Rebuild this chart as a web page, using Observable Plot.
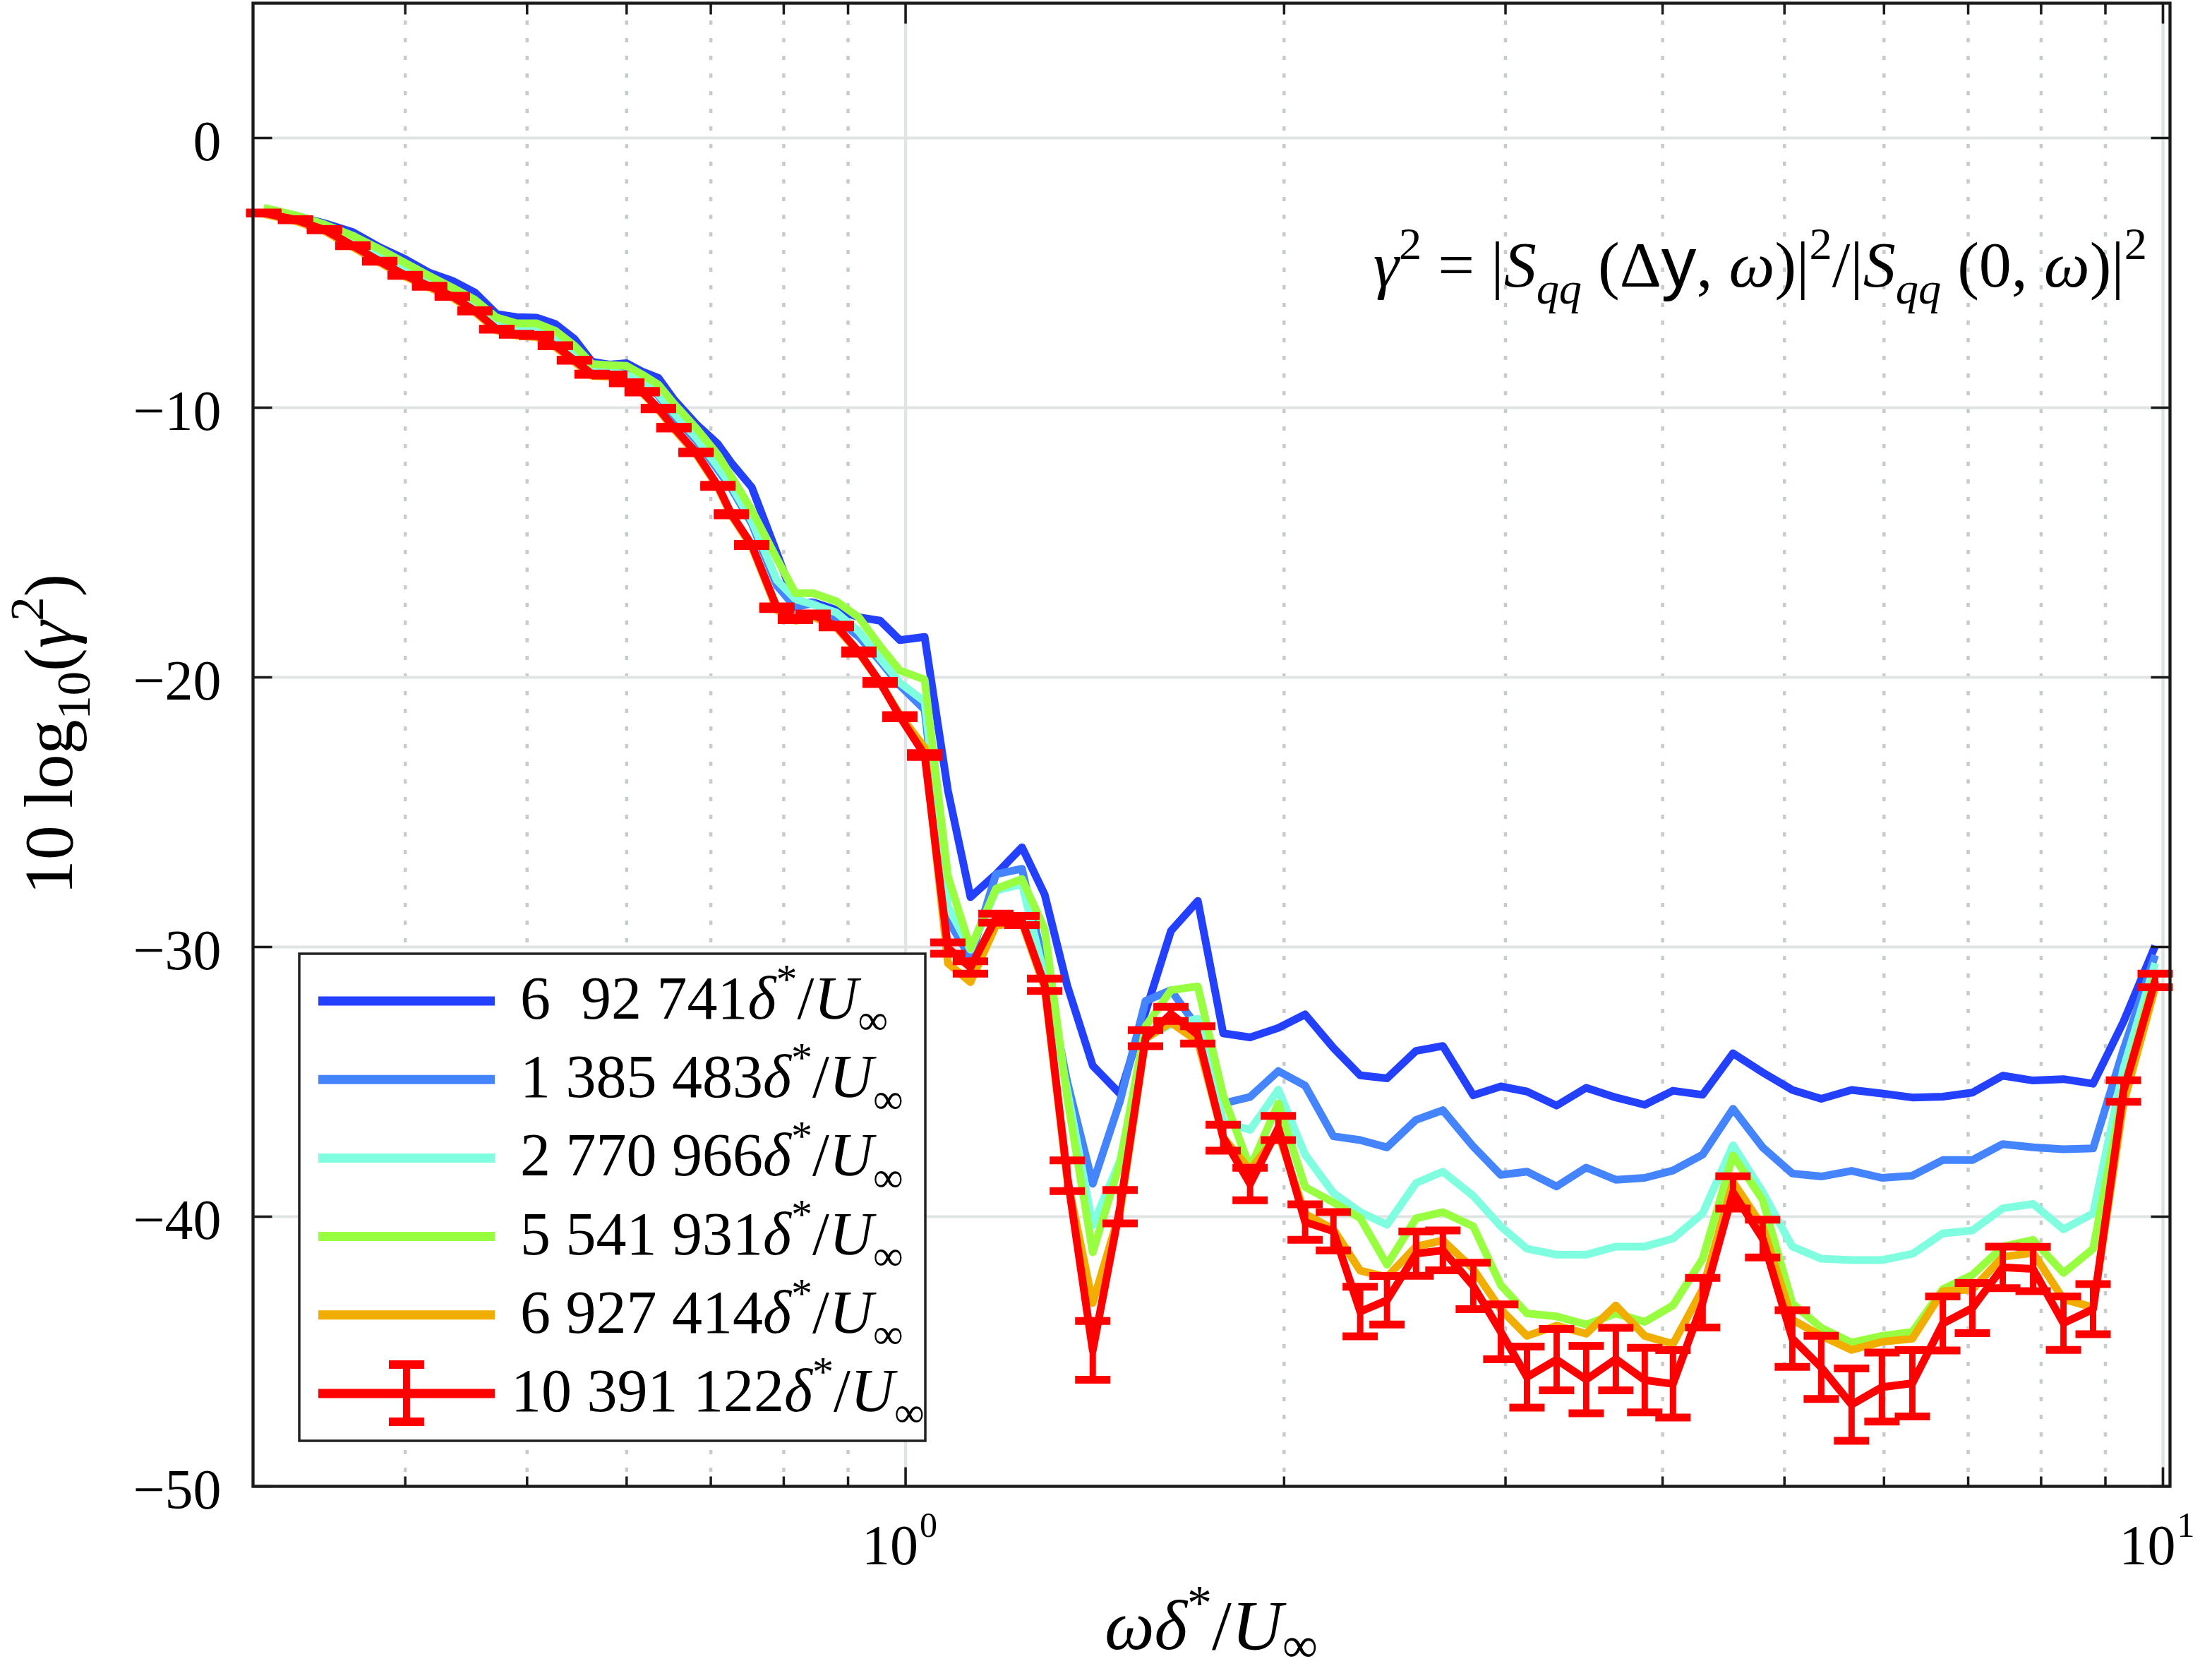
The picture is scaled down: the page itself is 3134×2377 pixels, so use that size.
<!DOCTYPE html>
<html><head><meta charset="utf-8">
<script src="https://cdn.jsdelivr.net/npm/d3@7"></script>
<script src="https://cdn.jsdelivr.net/npm/@observablehq/plot@0.6"></script>
<style>
html,body{margin:0;padding:0;background:#fff;overflow:hidden;}
#chart svg{display:block;}
</style></head>
<body><div id="chart"></div>
<script>
// ---------------- data ----------------
const freq = [
 0.3087,0.3272,0.3450,0.3634,0.3817,0.3999,0.4183,0.4360,0.4545,0.4730,
 0.4905,0.5086,0.5266,0.5453,0.5632,0.5816,0.6000,0.6173,0.6360,0.6543,
 0.6813,0.7092,0.7269,0.7545,0.7901,0.8173,0.8441,0.8810,0.9182,0.9545,
 0.9897,1.0355,1.0806,1.1262,1.1800,1.2376,1.2900,1.3445,1.4088,1.4813,
 1.5518,1.6258,1.7078,1.7890,1.8793,1.9790,2.0786,2.1890,2.2991,2.4149,
 2.5468,2.6749,2.8280,2.9743,3.1204,3.2943,3.4780,3.6718,3.8712,4.0767,
 4.3043,4.5506,4.8044,5.0727,5.3488,5.6540,5.9773,6.3198,6.6818,7.0540,
 7.4575,7.8840,8.3349,8.7991,9.3025,9.8585];

const blueVals = [
 -2.65,-2.88,-3.16,-3.49,-4.05,-4.49,-5.00,-5.29,-5.73,-6.53,
 -6.64,-6.66,-6.90,-7.45,-8.30,-8.40,-8.35,-8.66,-8.90,-9.70,
 -10.60,-11.35,-12.05,-12.95,-15.40,-17.25,-17.22,-17.50,-17.77,-17.90,
 -18.62,-18.50,-24.20,-28.15,-27.30,-26.30,-28.05,-31.43,-34.40,-35.45,
 -32.40,-29.40,-28.29,-33.20,-33.35,-33.00,-32.50,-33.74,-34.76,-34.87,
 -33.85,-33.67,-35.50,-35.17,-35.36,-35.88,-35.22,-35.58,-35.85,-35.33,
 -35.48,-33.94,-34.65,-35.30,-35.63,-35.30,-35.43,-35.58,-35.55,-35.40,
 -34.77,-34.95,-34.90,-35.07,-32.77,-29.96];

const midBlueVals = [
 -2.68,-2.95,-3.30,-3.80,-4.35,-4.85,-5.30,-5.70,-6.20,-6.85,
 -7.05,-7.08,-7.40,-7.95,-8.55,-8.60,-8.75,-9.00,-9.55,-10.30,
 -11.20,-12.30,-13.00,-14.30,-16.60,-17.40,-17.25,-17.80,-18.50,-19.40,
 -20.30,-21.20,-29.00,-30.40,-27.30,-27.10,-30.80,-35.00,-38.78,-35.70,
 -32.00,-31.60,-33.00,-35.80,-35.56,-34.60,-35.14,-37.02,-37.16,-37.43,
 -36.41,-36.05,-37.40,-38.45,-38.33,-38.88,-38.18,-38.63,-38.56,-38.29,
 -37.70,-36.00,-37.43,-38.40,-38.51,-38.30,-38.56,-38.48,-37.90,-37.90,
 -37.31,-37.43,-37.50,-37.47,-33.80,-30.30];

const cyanVals = [
 -2.70,-2.97,-3.32,-3.83,-4.38,-4.88,-5.33,-5.73,-6.23,-6.90,
 -7.10,-7.13,-7.45,-8.00,-8.58,-8.63,-8.80,-8.95,-9.50,-10.20,
 -11.10,-12.20,-12.90,-14.20,-16.40,-17.10,-17.30,-17.60,-18.30,-19.30,
 -20.20,-20.90,-28.50,-30.10,-27.90,-27.67,-31.10,-35.30,-40.32,-37.90,
 -33.37,-32.87,-32.66,-36.49,-36.78,-35.29,-37.70,-39.12,-39.83,-40.30,
 -38.75,-38.33,-39.23,-40.36,-41.19,-41.41,-41.41,-41.11,-41.11,-40.81,
 -39.88,-37.35,-39.08,-41.11,-41.56,-41.61,-41.61,-41.38,-40.62,-40.51,
 -39.69,-39.53,-40.47,-39.88,-34.50,-30.60];

const greenVals = [
 -2.59,-2.86,-3.20,-3.62,-4.12,-4.63,-5.12,-5.55,-6.00,-6.66,
 -6.87,-6.87,-7.15,-7.70,-8.38,-8.42,-8.45,-8.77,-9.15,-9.85,
 -10.75,-11.75,-12.55,-13.80,-15.60,-16.88,-16.88,-17.18,-17.78,-18.85,
 -19.75,-20.08,-27.37,-30.05,-27.84,-27.48,-29.33,-35.60,-41.32,-38.00,
 -32.94,-31.60,-31.46,-35.50,-38.20,-35.80,-38.90,-39.47,-40.05,-41.78,
 -40.06,-39.83,-40.36,-42.54,-43.59,-43.70,-44.00,-43.59,-43.90,-43.29,
 -41.56,-37.73,-39.38,-43.22,-44.12,-44.67,-44.42,-44.27,-42.69,-42.16,
 -41.11,-40.86,-42.09,-41.19,-35.30,-31.00];

const orangeVals = [
 -2.82,-3.08,-3.45,-4.05,-4.62,-5.14,-5.55,-5.92,-6.46,-7.14,
 -7.33,-7.38,-7.75,-8.30,-8.82,-8.85,-9.12,-9.45,-10.08,-10.80,
 -11.72,-12.96,-14.00,-15.15,-17.50,-17.90,-17.75,-18.15,-19.10,-20.20,
 -21.40,-22.60,-30.60,-31.30,-29.20,-29.10,-31.50,-38.60,-43.20,-39.80,
 -33.40,-32.80,-33.50,-37.06,-38.27,-36.92,-39.90,-40.47,-42.00,-42.24,
 -41.11,-40.88,-41.94,-43.44,-44.42,-44.04,-44.34,-43.29,-44.42,-44.72,
 -42.69,-38.71,-40.36,-43.82,-44.42,-44.94,-44.64,-44.52,-42.76,-42.70,
 -41.49,-41.34,-43.06,-43.36,-35.80,-31.50];

const redVals = [
 -2.78,-3.03,-3.40,-3.99,-4.57,-5.09,-5.50,-5.87,-6.41,-7.09,
 -7.28,-7.32,-7.70,-8.24,-8.76,-8.79,-9.08,-9.41,-10.03,-10.74,
 -11.66,-12.90,-13.95,-15.09,-17.42,-17.83,-17.68,-18.10,-19.06,-20.19,
 -21.46,-22.88,-30.04,-30.76,-28.93,-29.02,-31.40,-38.48,-44.96,-39.63,
 -33.38,-32.48,-33.26,-37.07,-38.79,-36.71,-40.20,-40.54,-43.52,-43.10,
 -41.37,-41.25,-42.57,-44.27,-45.95,-45.30,-46.04,-45.28,-46.06,-46.20,
 -43.19,-39.10,-40.81,-44.52,-45.59,-46.97,-46.32,-46.18,-43.96,-43.39,
 -41.88,-41.94,-43.95,-43.43,-35.34,-31.24];

const redErr = [
 0.02,0.02,0.02,0.02,0.02,0.02,0.02,0.02,0.02,0.02,
 0.02,0.02,0.02,0.02,0.02,0.02,0.02,0.03,0.03,0.03,
 0.03,0.04,0.04,0.04,0.05,0.05,0.05,0.05,0.06,0.06,
 0.06,0.07,0.21,0.23,0.17,0.17,0.23,0.57,1.09,0.62,
 0.30,0.26,0.32,0.48,0.60,0.45,0.66,0.71,0.92,0.90,
 0.82,0.74,0.86,1.02,1.13,1.14,1.25,1.16,1.20,1.25,
 0.92,0.60,0.70,1.05,1.17,1.34,1.28,1.23,1.00,0.93,
 0.77,0.82,0.99,0.93,0.40,0.25];

const seriesLabels = ["6\u200292 741","1 385 483","2 770 966","5 541 931","6 927 414","10 391 122"];
const seriesColors = ["#2340ff","#4484ff","#80ffe0","#98ff40","#f1ae00","#ff0000"];
const seriesValues = [blueVals, midBlueVals, cyanVals, greenVals, orangeVals, redVals];

const yTicks = [0,-10,-20,-30,-40,-50];
const xMajor = [1, 10];
const xMajorExp = ["0", "1"];
const xMinor = [0.4,0.5,0.6,0.7,0.8,0.9,2,3,4,5,6,7,8,9];
const xDomain = [0.3027, 10.13];
const yDomain = [-50, 5];

// ---------------- drawing ----------------
const W = 3134, H = 2377;
const FONT = "'Liberation Serif','Times New Roman',serif";
const AXIS = "#1b1b1b";
const idx = d3.range(freq.length);

const tickSym = (dx, dy) => ({draw(c) { c.moveTo(0, 0); c.lineTo(dx, dy); }});
const capSym = {draw(c, size) { const r = Math.sqrt(size / Math.PI); c.moveTo(-r, 0); c.lineTo(r, 0); }};

const lineMarks = seriesValues.map((vals, k) =>
  Plot.line(idx, {x: i => freq[i], y: i => vals[i], stroke: seriesColors[k],
    strokeWidth: 11, strokeLinejoin: "round", strokeLinecap: "butt"}));

const plot = Plot.plot({
  width: W, height: H,
  marginLeft: 358, marginRight: 60, marginTop: 4, marginBottom: 272,
  x: {type: "log", domain: xDomain, axis: null},
  y: {domain: yDomain, axis: null},
  style: {background: "#fff", fontFamily: FONT, overflow: "visible", color: "#000"},
  marks: [
    Plot.ruleX(xMinor, {stroke: "#c6cccc", strokeWidth: 4.5, strokeDasharray: "6,19"}),
    Plot.ruleX(xMajor, {stroke: "#e1e4e4", strokeWidth: 4.5}),
    Plot.ruleY(yTicks, {stroke: "#e1e4e4", strokeWidth: 4}),
    ...lineMarks,
    Plot.ruleX(idx, {x: i => freq[i], y1: i => redVals[i] - redErr[i], y2: i => redVals[i] + redErr[i],
      stroke: "#ff0000", strokeWidth: 9}),
    Plot.dot(idx, {x: i => freq[i], y: i => redVals[i] - redErr[i], symbol: capSym, r: 25,
      stroke: "#ff0000", strokeWidth: 11, fill: "none"}),
    Plot.dot(idx, {x: i => freq[i], y: i => redVals[i] + redErr[i], symbol: capSym, r: 25,
      stroke: "#ff0000", strokeWidth: 11, fill: "none"}),
    Plot.frame({stroke: AXIS, strokeWidth: 4.3}),
    // ticks (inward)
    Plot.dot(xMinor, {x: d => d, y: () => yDomain[0], symbol: tickSym(0, -14), r: 1, stroke: AXIS, strokeWidth: 3.5, fill: "none"}),
    Plot.dot(xMinor, {x: d => d, y: () => yDomain[1], symbol: tickSym(0, 16), r: 1, stroke: AXIS, strokeWidth: 3.5, fill: "none"}),
    Plot.dot(xMajor, {x: d => d, y: () => yDomain[0], symbol: tickSym(0, -27), r: 1, stroke: AXIS, strokeWidth: 3.5, fill: "none"}),
    Plot.dot(xMajor, {x: d => d, y: () => yDomain[1], symbol: tickSym(0, 29), r: 1, stroke: AXIS, strokeWidth: 3.5, fill: "none"}),
    Plot.dot(yTicks, {x: () => xDomain[0], y: d => d, symbol: tickSym(27, 0), r: 1, stroke: AXIS, strokeWidth: 3.5, fill: "none"}),
    Plot.dot(yTicks, {x: () => xDomain[1], y: d => d, symbol: tickSym(-27, 0), r: 1, stroke: AXIS, strokeWidth: 3.5, fill: "none"}),
    // tick labels
    Plot.text(yTicks, {x: () => xDomain[0], y: d => d, text: d => d === 0 ? "0" : "\u2212" + Math.abs(d),
      textAnchor: "end", dx: -45, dy: 6, fontSize: 80, fill: "#000", fontFamily: FONT}),
    Plot.text(xMajor, {x: d => d, y: () => yDomain[0], text: () => "10", textAnchor: "end",
      lineAnchor: "bottom", dx: 18, dy: 110, fontSize: 80, fill: "#000", fontFamily: FONT}),
    Plot.text(xMajor, {x: d => d, y: () => yDomain[0], text: (d, i) => xMajorExp[i], textAnchor: "start",
      lineAnchor: "bottom", dx: 20, dy: 71, fontSize: 50, fill: "#000", fontFamily: FONT})
  ]
});

document.getElementById("chart").appendChild(plot);
const svg = d3.select(plot);

// rich text helper
function rich(parent, x, y, size, parts, anchor, subK = 0.26) {
  const t = parent.append("text").attr("x", x).attr("y", y)
    .attr("font-size", size).attr("font-family", FONT).attr("fill", "#000")
    .attr("text-anchor", anchor || "start").attr("xml:space", "preserve")
    .style("white-space", "pre");
  let cur = 0;
  for (const [str, kind] of parts) {
    const sup = kind.includes("sup"), sub = kind.includes("sub");
    const off = sup ? -0.42 * size : sub ? subK * size : 0;
    const ts = t.append("tspan").text(str).attr("dy", off - cur);
    cur = off;
    if (sup || sub) ts.attr("font-size", size * 0.7);
    if (kind.includes("i")) ts.attr("font-style", "italic");
    if (kind.includes("sans")) ts.attr("font-family", "'Liberation Sans',sans-serif").attr("font-size", size * 1.08);
  }
  return t;
}

const unitParts = [["δ", "i"], ["*", "sup"], ["/", ""], ["U", "i"], ["∞", "sub"]];

// axis titles
rich(svg, 1716, 2336, 100, [["ω", "i"], ...unitParts], "middle", 0.18);
const yt = svg.append("g").attr("transform", "translate(102,1040) rotate(-90)");
rich(yt, 0, 0, 98, [["10 log", ""], ["10", "sub"], ["(", ""], ["γ", "i"], ["2", "sup"], [")", ""]], "middle");

// annotation
rich(svg, 3042, 406, 92, [
  ["γ", "i"], ["2", "sup"], [" = ", ""], ["|", ""], ["S", "i"], ["qq", "isub"], [" (", ""], ["Δ", ""], ["y", "sans"],
  [", ", ""], ["ω", "i"], [")|", ""], ["2", "sup"], ["/|", ""], ["S", "i"], ["qq", "isub"], [" (0, ", ""],
  ["ω", "i"], [")|", ""], ["2", "sup"]], "end");

// legend
const lg = svg.append("g");
lg.append("rect").attr("x", 424).attr("y", 1351).attr("width", 887).attr("height", 690)
  .attr("fill", "#fff").attr("stroke", "#222").attr("stroke-width", 3.5);
seriesLabels.forEach((lab, k) => {
  const ly = 1418 + k * 111.2;
  lg.append("line").attr("x1", 451).attr("x2", 701).attr("y1", ly).attr("y2", ly)
    .attr("stroke", seriesColors[k]).attr("stroke-width", 13);
  if (k === seriesLabels.length - 1) {
    lg.append("line").attr("x1", 576).attr("x2", 576).attr("y1", ly - 41).attr("y2", ly + 40)
      .attr("stroke", seriesColors[k]).attr("stroke-width", 10);
    for (const yy of [ly - 41, ly + 40]) {
      lg.append("line").attr("x1", 551).attr("x2", 601).attr("y1", yy).attr("y2", yy)
        .attr("stroke", seriesColors[k]).attr("stroke-width", 12);
    }
  }
  rich(lg, k === seriesLabels.length - 1 ? 724 : 737, ly + 25, 86, [[lab, ""], ...unitParts]);
});
</script>
</body></html>
